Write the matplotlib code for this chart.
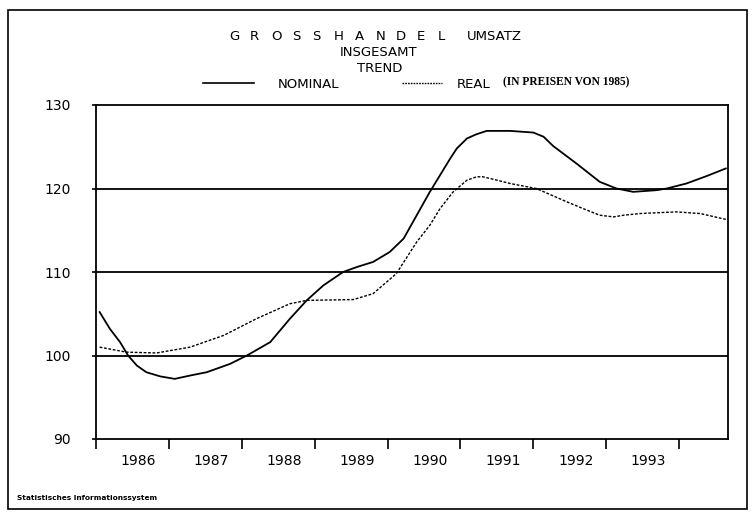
import numpy as np
import matplotlib.pyplot as plt
from matplotlib.lines import Line2D
from matplotlib.patches import Rectangle

# Trend values (index, decimal years)
nom_x = [1986.05, 1986.19, 1986.33, 1986.44, 1986.56, 1986.69, 1986.88, 1987.08,
         1987.29, 1987.52, 1987.84, 1988.07, 1988.39, 1988.66, 1988.89, 1989.12,
         1989.39, 1989.58, 1989.80, 1990.03, 1990.22, 1990.58, 1990.86, 1990.95,
         1991.09, 1991.22, 1991.36, 1991.68, 1992.00, 1992.14, 1992.27, 1992.59,
         1992.91, 1993.14, 1993.37, 1993.69, 1993.83, 1994.10, 1994.38, 1994.64]
nom_y = [105.2, 103.2, 101.6, 100.0, 98.8, 98.0, 97.5, 97.2,
         97.6, 98.0, 99.0, 100.0, 101.6, 104.4, 106.6, 108.4,
         110.0, 110.6, 111.2, 112.4, 114.0, 119.6, 123.6, 124.8,
         126.0, 126.5, 126.9, 126.9, 126.7, 126.2, 125.1, 123.0,
         120.8, 120.0, 119.6, 119.8, 120.0, 120.6, 121.5, 122.4]

real_x = [1986.05, 1986.42, 1986.83, 1987.29, 1987.75, 1988.20, 1988.66, 1988.89,
          1989.53, 1989.80, 1990.12, 1990.40, 1990.58, 1990.72, 1990.90, 1991.09,
          1991.22, 1991.31, 1991.50, 1991.68, 1992.04, 1992.46, 1992.68, 1992.91,
          1993.10, 1993.24, 1993.46, 1993.96, 1994.29, 1994.64]
real_y = [101.0, 100.4, 100.3, 101.0, 102.4, 104.4, 106.2, 106.6,
          106.7, 107.4, 109.8, 113.6, 115.6, 117.6, 119.6, 121.0,
          121.4, 121.4, 121.0, 120.6, 120.0, 118.4, 117.6, 116.8,
          116.6, 116.8, 117.0, 117.2, 117.0, 116.3]

years = [1986, 1987, 1988, 1989, 1990, 1991, 1992, 1993]
yticks = [90, 100, 110, 120, 130]
grid_vals = [100, 110, 120]

W, H = 753, 515
fig = plt.figure(figsize=(W / 100, H / 100), dpi=100)

def fx(px):
    return px / W

def fy(py):
    return 1 - py / H

ax = fig.add_axes([fx(96), fy(439), fx(728) - fx(96), fy(105) - fy(439)])
ax.set_xlim(1986.0, 1994.67)
ax.set_ylim(90, 130)

for g in grid_vals:
    ax.axhline(g, color='black', lw=1.3, zorder=1)

ax.plot(nom_x, nom_y, color='black', lw=1.3, solid_joinstyle='round')
ax.plot(real_x, real_y, color='black', lw=1.0, linestyle=(0, (2, 1.2)))

for s in ax.spines.values():
    s.set_linewidth(1.3)

ax.set_yticks(yticks)
ax.set_yticklabels([str(v) for v in yticks], fontsize=10, family='DejaVu Sans')
ax.tick_params(axis='y', direction='out', length=3, width=1.2, pad=15)

ax.set_xticks(list(range(1986, 1995)))
ax.set_xticklabels([])
ax.set_xticks([y + 0.58 for y in years], minor=True)
ax.set_xticklabels([str(y) for y in years], minor=True, fontsize=10)
ax.tick_params(axis='x', which='major', direction='out', length=7, width=1.2)
ax.tick_params(axis='x', which='minor', length=0, pad=11)

# title block
letters = "GROSSHANDEL"
for i, ch in enumerate(letters):
    fig.text(fx(229 + i * 20.9), fy(36), ch, fontsize=9.5, ha='left', va='center')
fig.text(fx(467), fy(36), "UMSATZ", fontsize=9.5, ha='left', va='center')
fig.text(fx(379), fy(53), "INSGESAMT", fontsize=9.5, ha='center', va='center')
fig.text(fx(380), fy(69), "TREND", fontsize=9.5, ha='center', va='center')

# legend row
fig.add_artist(Line2D([fx(203), fx(254)], [fy(83), fy(83)], color='black', lw=1.2))
fig.text(fx(278), fy(84), "NOMINAL", fontsize=9.5, ha='left', va='center')
fig.add_artist(Line2D([fx(402), fx(442)], [fy(83), fy(83)], color='black', lw=1.0,
                      linestyle=(0, (1.2, 0.8))))
fig.text(fx(457), fy(84), "REAL", fontsize=9.5, ha='left', va='center')
fig.text(fx(503), fy(82), "(IN PREISEN VON 1985)", fontsize=8.3, ha='left', va='center',
         family='Liberation Serif', weight='bold')

fig.text(fx(17), fy(498), "Statistisches Informationssystem", fontsize=5.3,
         weight='bold', ha='left', va='center')

fig.add_artist(Rectangle((fx(8), fy(509)), fx(747) - fx(8), fy(10) - fy(509),
                         transform=fig.transFigure, fill=False, lw=1.2, ec='black'))

fig.savefig('out.png', dpi=100)
